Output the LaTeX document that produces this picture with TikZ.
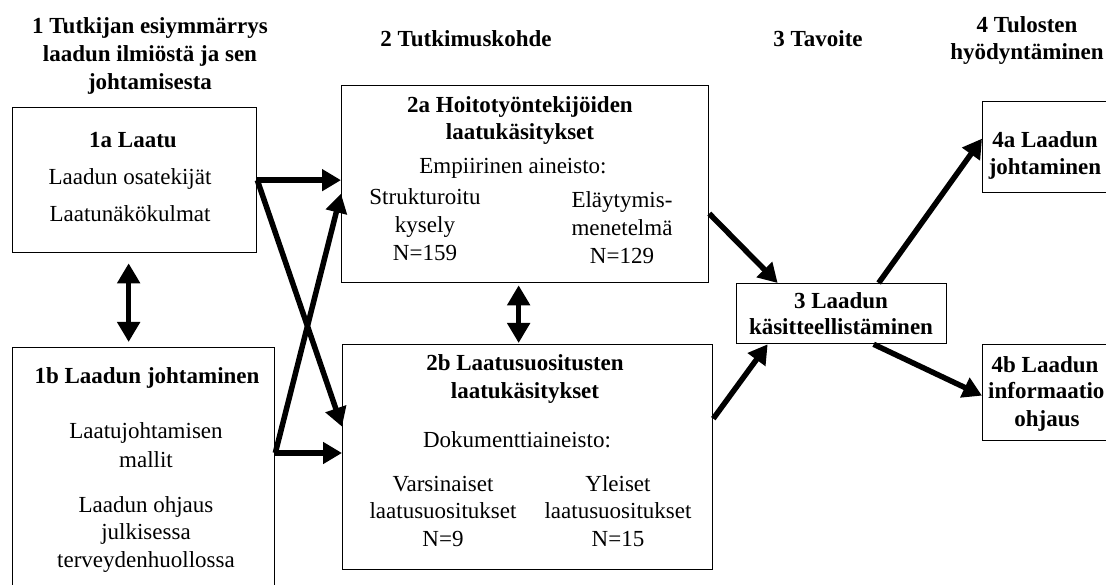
\documentclass[tikz,border=0pt]{standalone}
\usepackage{fontspec}
\setmainfont{Liberation Serif}
\usetikzlibrary{arrows.meta}
\begin{document}
\begin{tikzpicture}[x=1pt,y=-1pt,
  box/.style={draw=black,line width=1.3pt,inner sep=0pt,anchor=north west},
  % multi-line texts are placed by the baseline of their last line
  txt/.style={inner sep=0pt,anchor=base,align=center,font=\fontsize{23}{28}\selectfont},
  btxt/.style={txt,font=\fontsize{23}{28}\selectfont\bfseries},
  arr/.style={line width=5.5pt,-{Triangle[length=19pt,width=21pt]}},
  dbl/.style={line width=5.5pt,{Triangle[length=20pt,width=22pt]}-{Triangle[length=20pt,width=22pt]}}]
\fill[white] (0,0) rectangle (1106,585);
\clip (0,0) rectangle (1106,585);

% column headings
\node[btxt] (h1) at (150,90) {1 Tutkijan esiymmärrys\\laadun ilmiöstä ja sen\\johtamisesta};
\node[btxt] (h2) at (466,47) {2 Tutkimuskohde};
\node[btxt] (h3) at (818,47) {3 Tavoite};
\node[btxt,font=\fontsize{23}{27}\selectfont\bfseries] (h4) at (1027,60) {4 Tulosten\\hyödyntäminen};

% boxes
\node[box,minimum width=244pt,minimum height=145pt] (b1a) at (12,107) {};
\node[box,minimum width=262pt,minimum height=280pt] (b1b) at (12,347) {};
\node[box,minimum width=367pt,minimum height=197pt] (b2a) at (341,85) {};
\node[box,minimum width=370pt,minimum height=225pt] (b2b) at (342,344) {};
\node[box,minimum width=210pt,minimum height=60pt] (b3) at (736,283) {};
\node[box,minimum width=127pt,minimum height=91pt] (b4a) at (982,101) {};
\node[box,minimum width=127pt,minimum height=96pt] (b4b) at (982,344) {};

% 1a
\node[btxt] (t1a) at (133,148) {1a Laatu};
\node[txt] (t1a1) at (130,185) {Laadun osatekijät};
\node[txt] (t1a2) at (130,222) {Laatunäkökulmat};
% 1b
\node[btxt] (t1b) at (147,383) {1b Laadun johtaminen};
\node[txt,font=\fontsize{23}{29}\selectfont] (t1b1) at (146,467) {Laatujohtamisen\\mallit};
\node[txt,font=\fontsize{23}{27.5}\selectfont] (t1b2) at (146,567) {Laadun ohjaus\\julkisessa\\terveydenhuollossa};
% 2a
\node[btxt,font=\fontsize{23}{27}\selectfont\bfseries] (t2a) at (520,140) {2a Hoitotyöntekijöiden\\laatukäsitykset};
\node[txt] (t2a0) at (513,174) {Empiirinen aineisto:};
\node[txt] (t2a1) at (425,261) {Strukturoitu\\kysely\\N=159};
\node[txt] (t2a2) at (622,264) {Eläytymis-\\menetelmä\\N=129};
% 2b
\node[btxt] (t2b) at (525,398) {2b Laatusuositusten\\laatukäsitykset};
\node[txt] (t2b0) at (517,447) {Dokumenttiaineisto:};
\node[txt,font=\fontsize{23}{27.5}\selectfont] (t2b1) at (443,546) {Varsinaiset\\laatusuositukset\\N=9};
\node[txt,font=\fontsize{23}{27.5}\selectfont] (t2b2) at (618,546) {Yleiset\\laatusuositukset\\N=15};
% 3
\node[btxt,font=\fontsize{23}{26}\selectfont\bfseries] (t3) at (841,335) {3 Laadun\\käsitteellistäminen};
% 4a, 4b
\node[btxt,font=\fontsize{23}{27}\selectfont\bfseries] (t4a) at (1045,175) {4a Laadun\\johtaminen};
\node[btxt] (t4b) at (1045,372) {4b Laadun};
\node[btxt,anchor=base west] (t4b1) at (988,399) {informaatio};
\node[btxt] (t4b2) at (1047,426) {ohjaus};

% connector end points on the box borders
\coordinate (o1a) at (b1a.east);
\coordinate (o1b) at ([yshift=-106pt]b1b.north east);
\coordinate (c1) at ([xshift=-6pt]b1a.south);
\coordinate (c1b) at (c1 |- b1b.north);
\coordinate (c2) at ([xshift=-6.5pt]b2a.south);
\coordinate (c2b) at (c2 |- b2b.north);

% arrows from column 1 to column 2
\draw[arr] (o1a) -- (b2a.west |- o1a);
\draw[arr] (o1a) -- ([yshift=30.5pt]b2b.west);
\draw[arr] (o1b) -- (b2b.west |- o1b);
\draw[arr] (o1b) -- ([yshift=-9.5pt]b2a.west);

% two-way arrows
\draw[dbl] ([yshift=-10pt]c1) -- ([yshift=5pt]c1b);
\draw[dbl] ([yshift=-2pt]c2) -- ([yshift=1pt]c2b);

% arrows to and from the goal
\draw[arr] ([yshift=-29.5pt]b2a.east) -- ([xshift=-64pt]b3.north);
\draw[arr] ([yshift=38.5pt]b2b.east) -- ([xshift=-74pt]b3.south);
\draw[arr] ([xshift=37pt]b3.north) -- ([yshift=8.5pt]b4a.west);
\draw[arr] ([xshift=32pt]b3.south) -- ([yshift=-3pt]b4b.west);
\end{tikzpicture}
\end{document}
